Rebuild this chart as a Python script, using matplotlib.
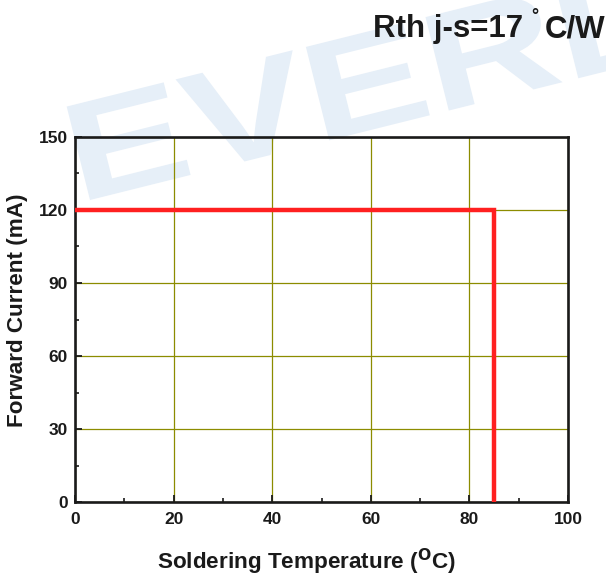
import matplotlib
matplotlib.use("Agg")
import matplotlib.pyplot as plt
import matplotlib.transforms as mtransforms
from matplotlib.font_manager import FontProperties
from matplotlib.patches import PathPatch
from matplotlib.textpath import TextPath
from matplotlib.ticker import MultipleLocator

# derating curve: soldering temperature (C) vs max forward current (mA)
temp_c = [0, 85, 85]
current_ma = [120, 120, 0]
x_ticks = [0, 20, 40, 60, 80, 100]
y_ticks = [0, 30, 60, 90, 120, 150]

plt.rcParams["font.family"] = ["Liberation Sans", "DejaVu Sans"]
plt.rcParams["font.weight"] = "bold"
INK = "#1a1a1a"
W, H = 606, 577

fig = plt.figure(figsize=(W / 100, H / 100), dpi=100)

# faint, wide watermark behind everything (drawn in pixel coords)
wm = TextPath((0, 0), "EVERLIGHT", size=140,
              prop=FontProperties(family="Liberation Sans", weight="bold"))
wm_tr = (mtransforms.Affine2D().scale(1.32, 1.0).rotate_deg(14)
         .translate(78, H - 203))
fig.add_artist(PathPatch(wm, transform=wm_tr, facecolor="#e6eff8",
                         edgecolor="none", zorder=0))

ax = fig.add_axes([75 / W, 1 - 502 / H, 493 / W, 365 / H])
ax.patch.set_alpha(0)
ax.set_zorder(2)

ax.plot(temp_c, current_ma, color="#ff2020", linewidth=3.2,
        solid_joinstyle="miter", zorder=3)

ax.set_xlim(0, 100)
ax.set_ylim(0, 150)
ax.set_xticks(x_ticks)
ax.set_yticks(y_ticks)
ax.xaxis.set_minor_locator(MultipleLocator(10))
ax.yaxis.set_minor_locator(MultipleLocator(15))
ax.grid(True, which="major", color="#8c8c00", linewidth=0.9)
ax.tick_params(which="major", direction="in", length=5, width=1.3,
               labelsize=12.5, pad=5, colors=INK)
ax.tick_params(axis="x", which="major", pad=7)
ax.tick_params(which="minor", direction="in", length=2.8, width=1.2,
               colors=INK)
for lab in ax.get_xticklabels() + ax.get_yticklabels():
    lab.set_fontweight("bold")
for s in ax.spines.values():
    s.set_linewidth(1.9)
    s.set_color(INK)

fig.text(18 / W, 1 - 310 / H, "Forward Current (mA)", fontsize=16.2,
         fontweight="bold", color=INK, rotation=90, ha="center", va="center")
fig.text(306 / W, 1 - 562 / H, "Soldering Temperature ($\\mathbf{^{O}}$C)",
         fontsize=16.2, fontweight="bold", color=INK, ha="center", va="center")

# title pieces: main text, small raised degree ring, unit
fig.text(373 / W, 1 - 37 / H, "Rth j-s=17", fontsize=22.5,
         fontweight="bold", color=INK, ha="left", va="baseline")
fig.text(534.5 / W, 1 - 21 / H, "\u00b0", fontsize=13,
         fontweight="bold", color=INK, ha="center", va="baseline")
fig.text(545 / W, 1 - 37 / H, "C/W", fontsize=22.5,
         fontweight="bold", color=INK, ha="left", va="baseline")

fig.savefig("out.png", dpi=100)
